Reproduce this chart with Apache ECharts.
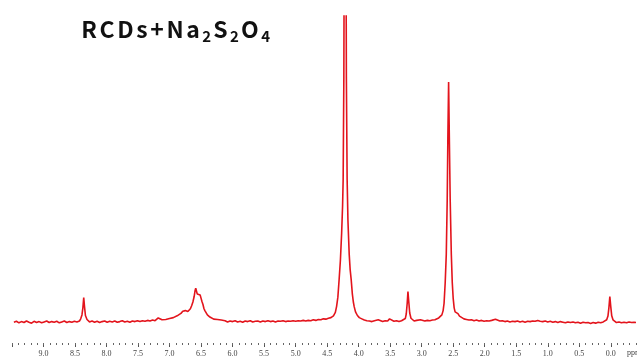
<!DOCTYPE html>
<html>
<head>
<meta charset="utf-8">
<title>RCDs+Na2S2O4 1H NMR</title>
<script src="https://cdn.jsdelivr.net/npm/echarts@6/dist/echarts.min.js"></script>
<style>
  html, body { margin: 0; padding: 0; background: #fff; }
  #chart { width: 637px; height: 359px; }
</style>
</head>
<body>
<div id="chart"></div>
<script>
// chemical shift (ppm) / intensity pairs, low field -> high field
const lowField = [
  [9.47, -0.2], [9.43, 0.1], [9.39, -0.4], [9.35, 0.0], [9.31, -0.3], [9.27, 0.2], [9.23, -0.2],
  [9.19, -0.5], [9.15, 0.1], [9.11, -0.3], [9.07, 0.0], [9.03, -0.4], [8.99, -0.1], [8.95, 0.2],
  [8.91, -0.3], [8.87, 0.0], [8.83, -0.2], [8.79, 0.1], [8.75, -0.4], [8.71, -0.1], [8.67, 0.2],
  [8.63, -0.3], [8.59, 0.0], [8.55, -0.2], [8.51, 0.1], [8.47, -0.1], [8.43, 0.2]
]
const peak837 = [
  [8.41, 0.9], [8.39, 2.2], [8.375, 4.6], [8.362, 7.9], [8.35, 5.0], [8.335, 2.0], [8.31, 0.7], [8.29, 0.1]
]
const midField1 = [
  [8.27, -0.1], [8.23, 0.2], [8.19, -0.2], [8.15, 0.1], [8.11, -0.3], [8.07, 0.0], [8.03, 0.2],
  [7.99, -0.2], [7.95, 0.1], [7.91, -0.1], [7.87, 0.2], [7.83, -0.2], [7.79, 0.0], [7.75, 0.3],
  [7.71, -0.1], [7.67, 0.1], [7.63, -0.2], [7.59, 0.2], [7.55, 0.0], [7.51, 0.3], [7.47, 0.0],
  [7.43, 0.3], [7.39, 0.1], [7.35, 0.4], [7.31, 0.2], [7.27, 0.5], [7.23, 0.3]
]
const aromatic = [
  [7.20, 0.7], [7.18, 1.2], [7.165, 1.4], [7.15, 0.8], [7.12, 0.6], [7.09, 0.9], [7.06, 0.7],
  [7.03, 1.1], [7.00, 1.0], [6.97, 1.4], [6.94, 1.3], [6.91, 1.8], [6.88, 1.9], [6.85, 2.4],
  [6.82, 2.7], [6.79, 3.4], [6.77, 3.9], [6.75, 3.6], [6.73, 3.8], [6.71, 3.3], [6.69, 3.4],
  [6.67, 4.2], [6.65, 5.2], [6.63, 6.4], [6.61, 8.2], [6.595, 10.2], [6.585, 10.9], [6.575, 10.3],
  [6.56, 9.0], [6.545, 9.4], [6.53, 9.6], [6.515, 8.7], [6.50, 7.6], [6.485, 6.5], [6.47, 5.6],
  [6.455, 4.3], [6.44, 3.6], [6.42, 3.1], [6.40, 2.2], [6.38, 1.7], [6.36, 1.5], [6.33, 1.0],
  [6.30, 0.8], [6.27, 0.5], [6.24, 0.7], [6.21, 0.3], [6.18, 0.5], [6.15, 0.1]
]
const midField2 = [
  [6.12, 0.3], [6.08, -0.1], [6.04, 0.2], [6.00, 0.0], [5.96, 0.3], [5.92, -0.1], [5.88, 0.1],
  [5.84, -0.2], [5.80, 0.2], [5.76, 0.0], [5.72, 0.3], [5.68, -0.1], [5.64, 0.1], [5.60, 0.2],
  [5.56, -0.1], [5.52, 0.2], [5.48, 0.0], [5.44, 0.3], [5.40, 0.0], [5.36, 0.2], [5.32, -0.1],
  [5.28, 0.2], [5.24, 0.1], [5.20, 0.3], [5.16, 0.0], [5.12, 0.2], [5.08, 0.1], [5.04, 0.3],
  [5.00, 0.1], [4.96, 0.3], [4.92, 0.2], [4.88, 0.4], [4.84, 0.2], [4.80, 0.4], [4.76, 0.3],
  [4.72, 0.6], [4.68, 0.4], [4.64, 0.7], [4.60, 0.6]
]
// water / solvent signal, runs far off scale
const peak422 = [
  [4.56, 0.9], [4.52, 0.8], [4.48, 1.1], [4.44, 1.3], [4.40, 1.9], [4.37, 3.0], [4.35, 5.0],
  [4.33, 8.0], [4.31, 13.8], [4.29, 20], [4.27, 29], [4.255, 38], [4.246, 46.6], [4.235, 80],
  [4.225, 160], [4.215, 320], [4.205, 160], [4.195, 80], [4.183, 46.6], [4.17, 33], [4.15, 22],
  [4.135, 17], [4.119, 13.8], [4.10, 9], [4.085, 6.5], [4.071, 4.9], [4.05, 3.2], [4.02, 2.0],
  [3.99, 1.3], [3.95, 0.9], [3.91, 0.5], [3.87, 0.3]
]
const upField1 = [
  [3.83, 0.2], [3.79, 0.0], [3.75, 0.3], [3.72, 0.1], [3.69, 0.6], [3.66, 0.2], [3.62, 0.0],
  [3.58, 0.3], [3.54, 0.2], [3.51, 0.9], [3.48, 0.4], [3.44, 0.1], [3.40, 0.3], [3.36, 0.0],
  [3.32, 0.3], [3.29, 0.4], [3.26, 1.0], [3.245, 2.5], [3.23, 6.0], [3.218, 9.8], [3.205, 6.5],
  [3.19, 2.8], [3.17, 1.1], [3.15, 0.5], [3.12, 0.2], [3.08, 0.4], [3.05, 0.2], [3.02, 0.6],
  [2.99, 0.3], [2.95, 0.2], [2.91, 0.4], [2.87, 0.3], [2.83, 0.5], [2.79, 0.6], [2.76, 0.8], [2.73, 1.2]
]
const peak257 = [
  [2.70, 1.6], [2.68, 2.2], [2.66, 3.6], [2.645, 6.0], [2.627, 12.8], [2.61, 22], [2.595, 40],
  [2.585, 60], [2.573, 78.4], [2.56, 58], [2.548, 40], [2.53, 22], [2.515, 12.8], [2.50, 7.5],
  [2.485, 4.5], [2.47, 3.2], [2.455, 3.0], [2.44, 3.1], [2.425, 2.6], [2.40, 1.8], [2.37, 1.3],
  [2.33, 0.9], [2.29, 0.7], [2.25, 0.5], [2.21, 0.6]
]
const upField2 = [
  [2.17, 0.3], [2.13, 0.5], [2.09, 0.2], [2.05, 0.4], [2.01, 0.1], [1.97, 0.3], [1.93, 0.2],
  [1.89, 0.4], [1.86, 0.6], [1.83, 0.8], [1.80, 0.5], [1.76, 0.2], [1.72, 0.3], [1.68, 0.0],
  [1.64, 0.2], [1.60, -0.1], [1.56, 0.1], [1.52, 0.0], [1.48, 0.2], [1.44, -0.1], [1.40, 0.1],
  [1.36, -0.2], [1.32, 0.1], [1.28, 0.0], [1.24, 0.2], [1.20, 0.1], [1.16, 0.4], [1.12, 0.1],
  [1.08, 0.0], [1.04, 0.2], [1.00, -0.1], [0.96, 0.1], [0.92, -0.2], [0.88, 0.0], [0.84, -0.3],
  [0.80, 0.0], [0.76, -0.2], [0.72, -0.4], [0.68, -0.1], [0.64, -0.3], [0.60, -0.1], [0.56, -0.4],
  [0.52, -0.2], [0.48, -0.5], [0.44, -0.2], [0.40, -0.4], [0.36, -0.3], [0.32, -0.6], [0.28, -0.3],
  [0.24, -0.5], [0.20, -0.2], [0.16, -0.4], [0.12, -0.1], [0.09, 0.1]
]
// TMS reference
const peakTMS = [
  [0.065, 0.6], [0.045, 1.8], [0.03, 4.5], [0.015, 8.2], [0.0, 4.8], [-0.015, 1.9], [-0.035, 0.6],
  [-0.06, 0.0], [-0.09, -0.3], [-0.13, -0.1], [-0.17, -0.4], [-0.21, -0.2], [-0.25, -0.4],
  [-0.29, -0.1], [-0.33, -0.3], [-0.37, -0.2], [-0.40, -0.3]
]

const spectrum = [].concat(lowField, peak837, midField1, aromatic, midField2,
  peak422, upField1, peak257, upField2, peakTMS)

// labelled (major) ticks in ppm
const majorTicks = [0, 0.5, 1.0, 1.5, 2.0, 2.5, 3.0, 3.5, 4.0, 4.5, 5.0, 5.5, 6.0, 6.5, 7.0, 7.5, 8.0, 8.5, 9.0, 9.5]

// title pieces: [text, style]  (b = normal size, s = subscript)
const titleParts = [
  ['R', 'b'], ['C', 'b'], ['D', 'b'], ['s', 'b'], ['+', 'b'], ['N', 'b'], ['a', 'b'],
  ['2', 's'], ['S', 'b'], ['2', 's'], ['O', 'b'], ['4', 's']
]

const axisFont = 'Liberation Serif'
const chart = echarts.init(document.getElementById('chart'))
const option = {
  animation: false,
  backgroundColor: '#fff',
  title: {
    left: 80,
    top: 15,
    padding: 0,
    text: titleParts.map(p => '{' + p[1] + '|' + p[0] + '}').join(''),
    textStyle: {
      rich: {
        b: {
          fontFamily: 'Noto Sans CJK SC',
          fontSize: 23,
          fontWeight: 'bold',
          color: '#111',
          lineHeight: 29,
          padding: [0, 1.3, 0, 1.3],
          verticalAlign: 'middle'
        },
        s: {
          fontFamily: 'Noto Sans CJK SC',
          fontSize: 15,
          fontWeight: 'bold',
          color: '#111',
          lineHeight: 15,
          padding: [0, 1.0, 0, 1.0],
          verticalAlign: 'bottom'
        }
      }
    }
  },
  grid: {
    left: 12,
    right: 1,
    top: 16,
    bottom: 16
  },
  xAxis: [
    {
      // main axis: labelled ticks every 0.5 ppm
      type: 'value',
      inverse: true,
      min: -0.4,
      max: 9.5,
      position: 'bottom',
      axisLine: { show: false, onZero: false },
      axisTick: {
        show: true,
        length: 4,
        customValues: majorTicks,
        lineStyle: { color: '#555', width: 1 }
      },
      splitLine: { show: false },
      axisLabel: {
        margin: 7,
        fontFamily: axisFont,
        fontSize: 8,
        color: '#444',
        customValues: majorTicks.slice(0, 19),
        formatter: function (v) {
          return v.toFixed(1)
        }
      }
    },
    {
      // minor ticks every 0.1 ppm
      type: 'value',
      inverse: true,
      min: -0.4,
      max: 9.5,
      interval: 0.1,
      position: 'bottom',
      offset: 0,
      axisLine: { show: false, onZero: false },
      axisTick: { show: true, length: 2, lineStyle: { color: '#666', width: 1 } },
      axisLabel: { show: false },
      splitLine: { show: false }
    }
  ],
  yAxis: {
    type: 'value',
    min: -7,
    max: 100,
    show: false
  },
  graphic: [
    {
      type: 'text',
      left: 627,
      top: 349,
      style: {
        text: 'ppm',
        fontFamily: axisFont,
        fontSize: 8,
        fill: '#444'
      }
    }
  ],
  series: [
    {
      type: 'line',
      xAxisIndex: 0,
      data: spectrum,
      showSymbol: false,
      clip: true,
      lineStyle: { color: '#e3141c', width: 1.6 },
      emphasis: { disabled: true }
    }
  ]
}
chart.setOption(option)
</script>
</body>
</html>
